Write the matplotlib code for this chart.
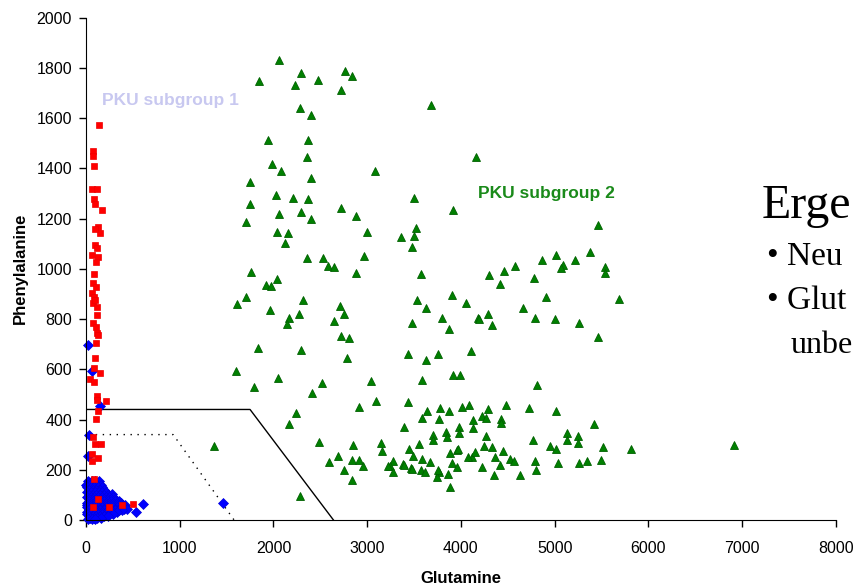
import matplotlib.pyplot as plt

# PKU subgroup 2 (green triangles): glutamine, phenylalanine
gln_sub2 = [2059, 1845, 2293, 2229, 2475, 2763, 2837, 2720, 3680, 2283, 2400, 1941, 2368, 2357,
            1984, 2080, 3083, 4160, 1749, 2400, 2027, 2208, 2368, 3499, 1749, 2059, 2293, 2400,
            2720, 2880, 3915, 1707, 2037, 2155, 2123, 2997, 3520, 3360, 3499, 3477, 2357, 2528,
            2965, 2581, 2645, 1760, 1920, 1973, 2037, 1707, 1611, 1963, 2315, 2272, 2165, 2144,
            1835, 2293, 1600, 2048, 1792, 2517, 2411, 2240, 2165, 2485, 2283, 2880, 2709, 2752,
            2645, 2720, 2805, 2784, 3040, 2912, 3093, 2848, 2688, 2592, 2752, 2837, 2912, 2955,
            2837, 3147, 3157, 3275, 3243, 3275, 3381, 3467, 3445, 3488, 3552, 3584, 3669, 3573,
            3616, 3765, 3744, 3883, 3957, 3904, 3957, 3861, 3883, 3392, 3435, 3584, 3637, 3765,
            3776, 3872, 4011, 4085, 3701, 3701, 3840, 3851, 3979, 3979, 4128, 4128, 4117, 4149,
            3573, 3531, 3627, 3477, 3797, 3872, 3904, 4053, 4181, 3435, 3627, 3755, 4107, 3915,
            3989, 3584, 5461, 5376, 5216, 5013, 4864, 5088, 5067, 4576, 4459, 4299, 4416, 4779,
            5536, 5536, 5685, 4907, 4661, 4288, 4192, 4331, 4789, 5003, 5259, 5461, 4811, 4288,
            4224, 4267, 4480, 4427, 4427, 4725, 5013, 5419, 4267, 4768, 5131, 5131, 5248, 5248,
            3968, 4245, 4331, 4448, 4075, 4363, 4949, 5013, 5515, 5813, 6912, 3221, 3392, 3477,
            3755, 4224, 4352, 4416, 4523, 4565, 4629, 4789, 4800, 5035, 5259, 5344, 5493, 1365]
phe_sub2 = [1831, 1747, 1779, 1731, 1751, 1787, 1767, 1711, 1652, 1640, 1612, 1512, 1512, 1445,
            1417, 1389, 1389, 1445, 1345, 1361, 1293, 1282, 1278, 1282, 1258, 1218, 1226, 1198,
            1242, 1210, 1234, 1186, 1146, 1142, 1102, 1146, 1162, 1126, 1130, 1087, 1043, 1043,
            1051, 1011, 1007, 987, 935, 931, 959, 888, 860, 836, 876, 820, 804, 780,
            684, 677, 593, 565, 529, 545, 505, 426, 382, 310, 96, 983, 852, 820,
            792, 732, 724, 645, 553, 450, 474, 299, 255, 231, 199, 239, 239, 215,
            159, 306, 275, 235, 215, 191, 223, 207, 283, 255, 302, 243, 231, 199,
            191, 191, 171, 267, 279, 227, 211, 183, 131, 370, 470, 406, 434, 402,
            446, 434, 450, 458, 338, 318, 350, 330, 370, 346, 398, 366, 251, 271,
            979, 876, 844, 784, 804, 760, 896, 864, 804, 661, 637, 661, 673, 577,
            577, 557, 1174, 1067, 1035, 1055, 1035, 1015, 1003, 1011, 991, 975, 939, 963,
            1007, 983, 880, 888, 844, 820, 800, 776, 804, 800, 784, 728, 537, 442,
            414, 406, 458, 402, 386, 446, 434, 382, 334, 318, 346, 318, 334, 306,
            283, 295, 291, 275, 251, 251, 295, 283, 291, 283, 299, 215, 219, 203,
            199, 211, 179, 219, 243, 235, 179, 235, 199, 227, 227, 235, 239, 295]

# PKU subgroup 1 (red squares)
gln_sub1 = [139, 75, 75, 85, 64, 117, 85, 96, 171, 128, 149, 96, 96, 117, 64, 128, 107, 85,
            75, 107, 64, 85, 75, 117, 96, 117, 75, 107, 117, 128, 107, 96, 85, 149, 43, 85,
            117, 213, 117, 128, 107, 75, 96, 160, 64, 128, 64, 85, 128, 75, 245, 384, 501]
phe_sub1 = [1572, 1469, 1449, 1409, 1317, 1317, 1278, 1258, 1234, 1166, 1142, 1158, 1094, 1083,
            1055, 1047, 1027, 979, 943, 927, 903, 888, 864, 848, 876, 816, 784, 768, 744, 736,
            704, 645, 605, 585, 561, 549, 494, 474, 478, 434, 402, 330, 302, 302, 263, 247,
            235, 163, 84, 52, 52, 60, 64]

# controls (blue diamonds): outliers, then the dense cluster near the origin
gln_ctrl = [21, 64, 149, 32, 21, 608, 533, 1461,
            20, 60, 100, 140,
            0, 40, 80, 120, 160,
            10, 50, 90, 130, 170,
            30, 70, 110, 150, 190,
            15, 55, 95, 135, 175, 210,
            30, 70, 110, 150, 190, 230, 280,
            10, 50, 90, 130, 170, 210, 250, 290,
            30, 70, 110, 150, 190, 230, 270, 310,
            30, 70, 110, 150, 190, 230, 270, 310, 350,
            10, 50, 90, 130, 170, 210, 250, 290, 330, 370,
            10, 50, 90, 130, 170, 210, 250, 290, 330, 370, 420,
            10, 50, 90, 130, 170, 210, 250, 290, 330, 370, 420,
            30, 70, 110, 150, 190, 230, 270, 310, 350, 400, 440,
            30, 70, 110, 150, 190, 230, 270, 310, 350, 380,
            10, 50, 90, 130, 170, 210, 250, 290, 330,
            10, 50, 90, 130, 170, 210, 250, 290,
            30, 70, 110, 150, 190, 230,
            40, 80, 120, 160,
            20, 60, 100]
phe_ctrl = [697, 593, 454, 338, 255, 64, 32, 68,
            155, 155, 155, 155,
            140, 140, 140, 140, 140,
            130, 130, 130, 130, 130,
            120, 120, 120, 120, 120,
            110, 110, 110, 110, 110, 110,
            100, 100, 100, 100, 100, 100, 105,
            90, 90, 90, 90, 90, 90, 90, 90,
            82, 82, 82, 82, 82, 82, 82, 82,
            75, 75, 75, 75, 75, 75, 75, 75, 75,
            68, 68, 68, 68, 68, 68, 68, 68, 68, 68,
            60, 60, 60, 60, 60, 60, 60, 60, 60, 60, 60,
            52, 52, 52, 52, 52, 52, 52, 52, 52, 52, 52,
            45, 45, 45, 45, 45, 45, 45, 45, 45, 45, 45,
            38, 38, 38, 38, 38, 38, 38, 38, 38, 38,
            30, 30, 30, 30, 30, 30, 30, 30, 30,
            22, 22, 22, 22, 22, 22, 22, 22,
            15, 15, 15, 15, 15, 15,
            10, 10, 10, 10,
            5, 5, 5]

# cut-off boundaries
outer_x = [0, 1750, 2640]
outer_y = [440, 440, 0]
inner_x = [30, 930, 1580]
inner_y = [340, 340, 0]

fig = plt.figure(figsize=(8.55, 5.86), dpi=100)
ax = fig.add_axes([0.1006, 0.1126, 0.877, 0.8575])

ax.plot(outer_x, outer_y, color='black', lw=1.0)
ax.plot(inner_x, inner_y, color='black', lw=1.0, linestyle=(0, (1, 4)))

ax.plot(gln_ctrl, phe_ctrl, 'D', color='#0000ff', ms=5, mec='#0000dd', mew=0.5, clip_on=False)
ax.plot(gln_sub1, phe_sub1, 's', color='#ff0000', ms=5, mec='#ee0000', mew=0.5, clip_on=False)
ax.plot(gln_sub2, phe_sub2, '^', color='#008000', ms=6, mec='#006000', mew=0.6)

ax.text(170, 1670, 'PKU subgroup 1', color='#c8c8f0', fontsize=12.5, fontweight='bold',
        family='Liberation Sans', va='center')
ax.text(4181, 1300, 'PKU subgroup 2', color='#1a8a1a', fontsize=12.5, fontweight='bold',
        family='Liberation Sans', va='center')

ax.set_xlim(0, 8000)
ax.set_ylim(0, 2000)
ax.set_xticks(range(0, 8001, 1000))
ax.set_yticks(range(0, 2001, 200))
ax.spines['top'].set_visible(False)
ax.spines['right'].set_visible(False)
ax.tick_params(direction='out', length=5, width=1, labelsize=11.5)
ax.tick_params(axis='x', pad=10)
ax.tick_params(axis='y', pad=5)
for lab in ax.get_xticklabels() + ax.get_yticklabels():
    lab.set_family('Liberation Sans')
ax.set_xlabel('Glutamine', fontsize=12, fontweight='bold', family='Liberation Sans', labelpad=11)
ax.set_ylabel('Phenylalanine', fontsize=12, fontweight='bold', family='Liberation Sans', labelpad=6)

# slide text overlapping the chart on the right (it runs to the slide edge)
fig.text(762 / 855, 1 - 218 / 586, 'Erge', fontsize=34.5, family='Liberation Serif', va='baseline')
fig.text(767 / 855, 1 - 265 / 586, '\u2022 Neu', fontsize=24, family='Liberation Serif', va='baseline')
fig.text(767 / 855, 1 - 309 / 586, '\u2022 Glut', fontsize=24, family='Liberation Serif', va='baseline')
fig.text(791 / 855, 1 - 353 / 586, 'unbe', fontsize=23, family='Liberation Serif', va='baseline')

fig.savefig('out.png', dpi=100)
